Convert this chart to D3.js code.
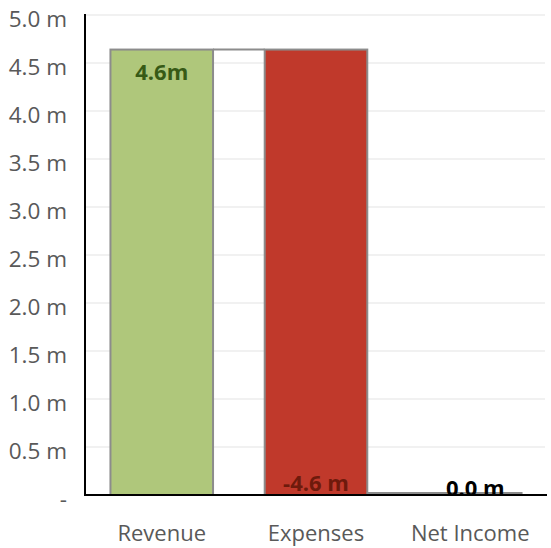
<!DOCTYPE html>
<html><head><meta charset="utf-8">
<script src="https://cdn.jsdelivr.net/npm/d3@7"></script>
<style>body{margin:0;background:#fff}svg{display:block}text{font-family:"Open Sans","Noto Sans",sans-serif}</style>
</head><body><svg id="c" width="551" height="548"></svg>
<script>
const categories = ["Revenue", "Expenses", "Net Income"];
const values = [4.64, -4.64, 0.0];
const barLabels = ["4.6m", "-4.6 m", "0.0 m"];
const yTicks = [0, 0.5, 1.0, 1.5, 2.0, 2.5, 3.0, 3.5, 4.0, 4.5, 5.0];
const yTickLabels = ["-", "0.5 m", "1.0 m", "1.5 m", "2.0 m", "2.5 m", "3.0 m", "3.5 m", "4.0 m", "4.5 m", "5.0 m"];
const colors = ["#afc77b", "#c0392b", "#afc77b"];
const labelColors = ["#375a16", "#6e1a0c", "#000000"];

const svg = d3.select("#c");
const m = {left: 85, right: 4, top: 15, bottom: 53};
const W = 551, H = 548;
const x = d3.scaleBand().domain(categories).range([m.left, W - m.right]).paddingInner(0.335).paddingOuter(0.165);
const y = d3.scaleLinear().domain([0, 5]).range([H - m.bottom, m.top]);

// running totals (waterfall)
let run = 0;
const bars = categories.map((c, i) => {
  let start, end;
  if (i === categories.length - 1) { start = 0; end = run; }
  else { start = run; end = run + values[i]; run = end; }
  return {c, i, lo: Math.min(start, end), hi: Math.max(start, end), end, start};
});

// gridlines
svg.append("g").selectAll("line").data(yTicks.slice(1)).join("line")
  .attr("x1", m.left).attr("x2", W - 6)
  .attr("y1", d => y(d)).attr("y2", d => y(d))
  .attr("stroke", "#ececec").attr("stroke-width", 1.5);

// y tick labels
svg.append("g").selectAll("text").data(yTicks).join("text")
  .attr("x", 67).attr("y", d => y(d) + 3)
  .attr("text-anchor", "end").attr("dominant-baseline", "central")
  .attr("font-size", 22.5).attr("fill", "#595959")
  .text((d, i) => yTickLabels[i]);

// connectors
const lift = (v) => v === 0 ? -2 : 0;
for (let i = 0; i < bars.length - 1; i++) {
  const yy = y(bars[i].end) + lift(bars[i].end);
  svg.append("line")
    .attr("x1", x(bars[i].c) + x.bandwidth()).attr("x2", x(bars[i + 1].c))
    .attr("y1", yy).attr("y2", yy)
    .attr("stroke", "#8c8c8c").attr("stroke-width", 2);
}

// bars
svg.append("g").selectAll("rect").data(bars).join("rect")
  .attr("x", d => x(d.c)).attr("width", x.bandwidth())
  .attr("y", d => y(d.hi) + (d.hi === d.lo ? -2 : 0))
  .attr("height", d => Math.max(y(d.lo) - y(d.hi), 0.01))
  .attr("fill", d => colors[d.i]).attr("stroke", "#8c8c8c").attr("stroke-width", 2);

// axes lines
svg.append("line").attr("x1", m.left).attr("x2", m.left).attr("y1", m.top - 1).attr("y2", y(0) + 1)
  .attr("stroke", "#000").attr("stroke-width", 2);
svg.append("line").attr("x1", m.left - 1).attr("x2", W - 4).attr("y1", y(0)).attr("y2", y(0))
  .attr("stroke", "#000").attr("stroke-width", 2);

// category labels
svg.append("g").selectAll("text").data(categories).join("text")
  .attr("x", d => x(d) + x.bandwidth() / 2).attr("y", 532)
  .attr("text-anchor", "middle").attr("dominant-baseline", "central")
  .attr("font-size", 22).attr("fill", "#595959").text(d => d);

// bar labels
const labelY = [y(bars[0].hi) + 21, y(bars[1].lo) - 13, y(0) - 8];
const labelDx = [0, 0, 5];
svg.append("g").selectAll("text").data(bars).join("text")
  .attr("x", d => x(d.c) + x.bandwidth() / 2 + labelDx[d.i]).attr("y", d => labelY[d.i])
  .attr("text-anchor", "middle").attr("dominant-baseline", "central")
  .attr("font-size", 22).attr("font-weight", "bold").attr("fill", d => labelColors[d.i])
  .text(d => barLabels[d.i]);
</script></body></html>
